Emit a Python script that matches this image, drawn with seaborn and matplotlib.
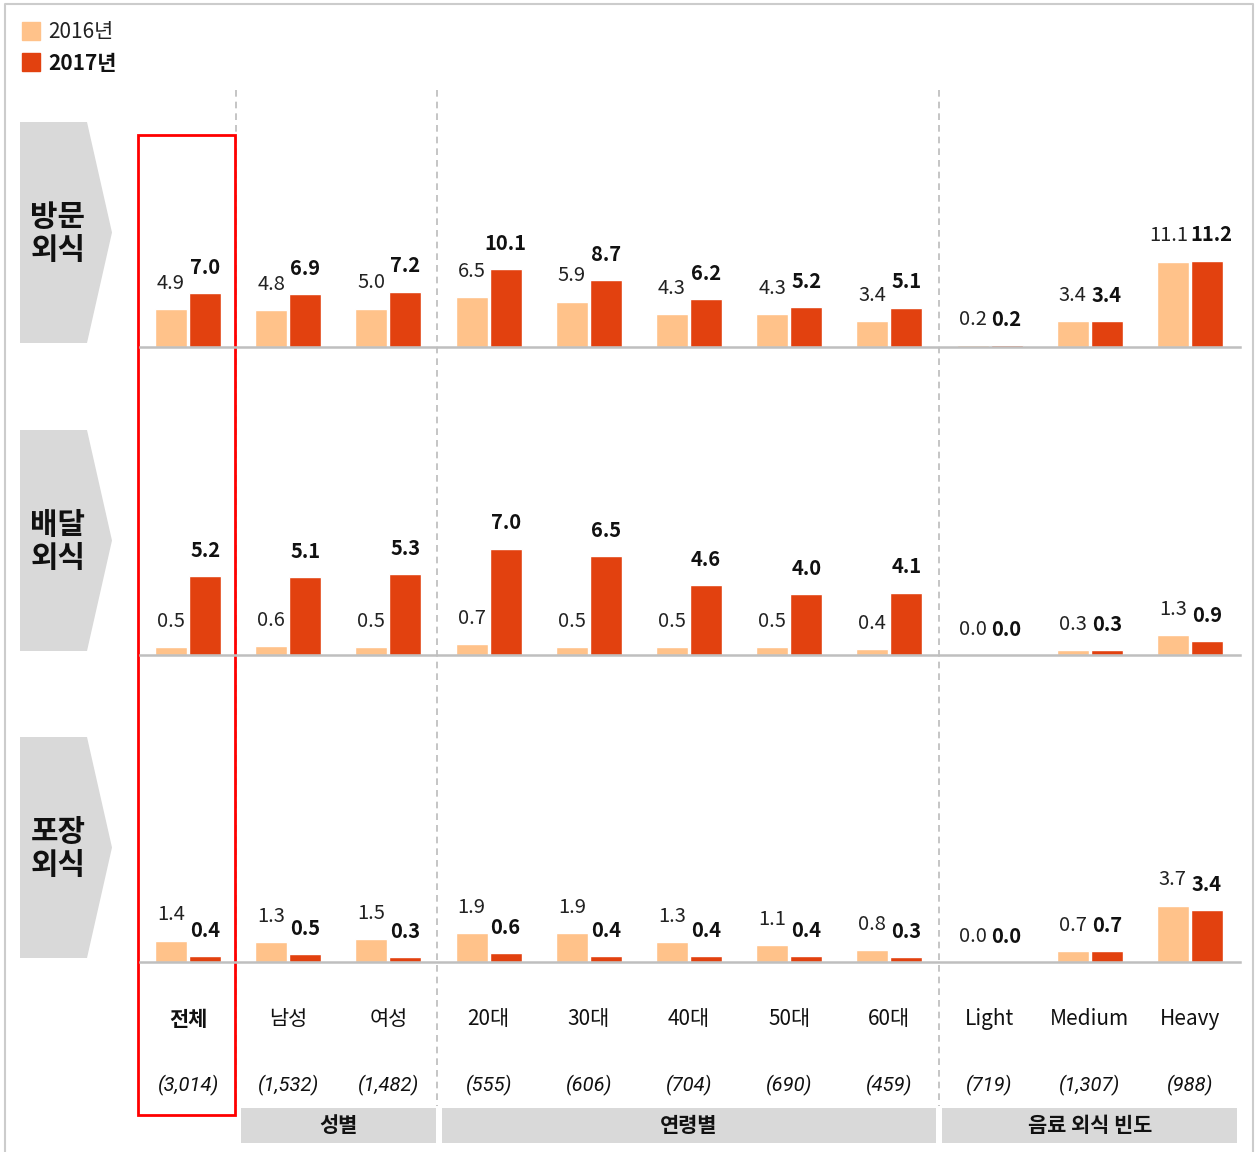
import matplotlib
matplotlib.use('Agg')
import matplotlib.pyplot as plt
import matplotlib.transforms as mtransforms
from matplotlib.patches import Rectangle, Polygon
import seaborn as sns
import pandas as pd

# data
categories = ['전체', '남성', '여성', '20대', '30대', '40대', '50대', '60대', 'Light', 'Medium', 'Heavy']
counts = ['(3,014)', '(1,532)', '(1,482)', '(555)', '(606)', '(704)', '(690)', '(459)', '(719)', '(1,307)', '(988)']
years = ['2016년', '2017년']
row_names = ['방문\n외식', '배달\n외식', '포장\n외식']

visit_2016 = [4.9, 4.8, 5.0, 6.5, 5.9, 4.3, 4.3, 3.4, 0.2, 3.4, 11.1]
visit_2017 = [7.0, 6.9, 7.2, 10.1, 8.7, 6.2, 5.2, 5.1, 0.2, 3.4, 11.2]
delivery_2016 = [0.5, 0.6, 0.5, 0.7, 0.5, 0.5, 0.5, 0.4, 0.0, 0.3, 1.3]
delivery_2017 = [5.2, 5.1, 5.3, 7.0, 6.5, 4.6, 4.0, 4.1, 0.0, 0.3, 0.9]
takeout_2016 = [1.4, 1.3, 1.5, 1.9, 1.9, 1.3, 1.1, 0.8, 0.0, 0.7, 3.7]
takeout_2017 = [0.4, 0.5, 0.3, 0.6, 0.4, 0.4, 0.4, 0.3, 0.0, 0.7, 3.4]

groups = ['성별', '연령별', '음료 외식 빈도']
group_spans = [(1, 2), (3, 7), (8, 10)]

C16 = '#FFC28A'
C17 = '#E2410F'
GRAY = '#D9D9D9'

sns.set_style('white')
plt.rcParams['font.family'] = ['Noto Sans CJK KR', 'DejaVu Sans']

W, H = 1260, 1152
fig = plt.figure(figsize=(W / 100, H / 100), dpi=100)

# overlay in pixel coords for decorations
ov = fig.add_axes([0, 0, 1, 1], zorder=0)
ov.set_xlim(0, W)
ov.set_ylim(H, 0)
ov.axis('off')

# outer border
ov.plot([5, 5, 1253, 1253], [1160, 4, 4, 1160], color='#CCCCCC', lw=1.5)

# legend
ov.add_patch(Rectangle((22, 22), 18, 18, color=C16))
ov.add_patch(Rectangle((22, 53), 18, 18, color=C17))
ov.text(48, 32, years[0], fontsize=15, va='center', ha='left', color='#222222')
ov.text(48, 63, years[1], fontsize=15, va='center', ha='left', fontweight='bold', color='#111111')

row_data = [(visit_2016, visit_2017), (delivery_2016, delivery_2017), (takeout_2016, takeout_2017)]
baselines = [347, 655, 962]
px_per_unit = [7.7, 15.2, 15.2]
ax_h = 250
x_left, x_right = 140, 1240

axes = []
for r, ((v16, v17), yb, ppu) in enumerate(zip(row_data, baselines, px_per_unit)):
    ax = fig.add_axes([x_left / W, (H - yb) / H, (x_right - x_left) / W, ax_h / H], zorder=2)
    ax.patch.set_alpha(0)
    df = pd.DataFrame({
        'category': categories * 2,
        'value': v16 + v17,
        'year': [years[0]] * len(categories) + [years[1]] * len(categories),
    })
    sns.barplot(data=df, x='category', y='value', hue='year', palette=[C16, C17],
                saturation=1, width=0.68, gap=0.06, errorbar=None, legend=False, ax=ax)
    ax.set_xlim(-0.48, 10.5)
    ax.set_ylim(0, ax_h / ppu)
    ax.set_xlabel('')
    ax.set_ylabel('')
    ax.set_xticks([])
    ax.set_yticks([])
    for s in ['top', 'left', 'right']:
        ax.spines[s].set_visible(False)
    ax.spines['bottom'].set_color('#BFBFBF')
    ax.spines['bottom'].set_linewidth(1.8)
    lab16 = ax.bar_label(ax.containers[0], labels=[f'{v:.1f}' for v in v16], padding=11,
                         fontsize=14.5, color='#222222')
    lab17 = ax.bar_label(ax.containers[1], labels=[f'{v:.1f}' for v in v17], padding=11,
                         fontsize=14.5, color='#111111', fontweight='bold')
    # two-digit pairs sit tight together; push them apart a little
    for a16, a17, x16, x17 in zip(lab16, lab17, v16, v17):
        if x16 >= 10 and x17 >= 10:
            a16.xyann = (-3, 11)
            a17.xyann = (3, 11)
    axes.append(ax)

    # row label chevron
    top, bot = yb - 225, yb - 4
    mid = (top + bot) / 2
    ov.add_patch(Polygon([(20, top), (87, top), (112, mid), (87, bot), (20, bot)],
                         closed=True, color=GRAY, lw=0))
    ov.text(58, mid + 1, row_names[r], fontsize=21.5, fontweight='bold', ha='center', va='center',
            linespacing=1.1, color='#111111')

# dashed separators and category labels positioned in data x of the bar axes
bax = axes[-1]
blend = mtransforms.blended_transform_factory(bax.transData, ov.transData)
for xs in [0.48, 2.48, 7.5]:
    ov.plot([xs, xs], [90, 1106], transform=blend, color='#BBBBBB', lw=1.2,
            ls=(0, (4, 3)), zorder=1)
for i, (cat, n) in enumerate(zip(categories, counts)):
    ov.text(i, 1019, cat, transform=blend, ha='center', va='center', fontsize=15,
            fontweight='bold' if i == 0 else 'normal', color='#111111')
    ov.text(i, 1085, n, transform=blend, ha='center', va='center', fontsize=14.5,
            family='Roboto', style='italic', color='#111111')

# group header bars
for g, (a, b) in zip(groups, group_spans):
    x0 = bax.transData.transform((a - 0.5, 0))[0]
    x1 = bax.transData.transform((b + 0.5, 0))[0]
    ov.add_patch(Rectangle((x0 + 3, 1108), x1 - x0 - 6, 35, color=GRAY, lw=0))
    ov.text((x0 + x1) / 2, 1126, g, ha='center', va='center', fontsize=15,
            fontweight='bold', color='#111111')

# highlight box around 전체
ov.add_patch(Rectangle((138, 135), 97, 980, fill=False, edgecolor='#FF0000', lw=2, zorder=5))

fig.savefig('out.png', dpi=100)
